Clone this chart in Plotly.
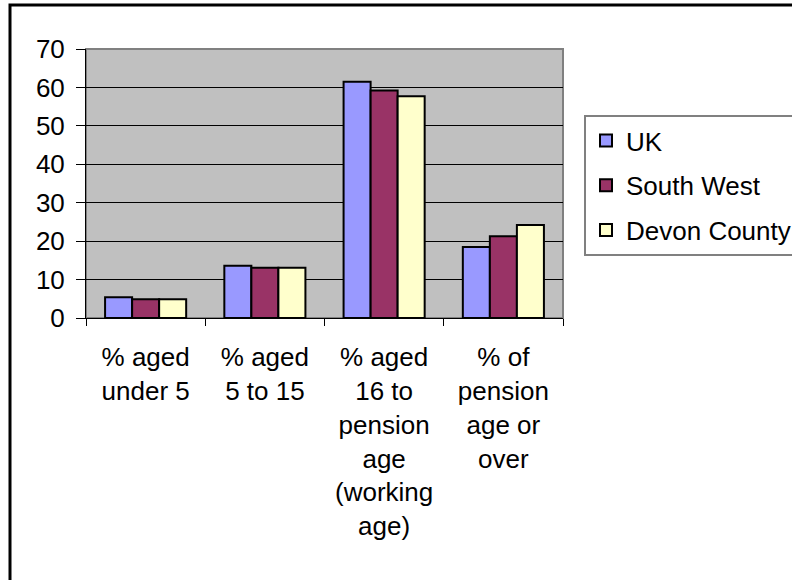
import plotly.graph_objects as go

categories = [
    "% aged<br>under 5",
    "% aged<br>5 to 15",
    "% aged<br>16 to<br>pension<br>age<br>(working<br>age)",
    "% of<br>pension<br>age or<br>over",
]
uk = [5.4, 13.6, 61.5, 18.5]
south_west = [4.9, 13.1, 59.2, 21.3]
devon = [4.9, 13.1, 57.7, 24.2]

series = [
    ("UK", uk, "#9999FF"),
    ("South West", south_west, "#993366"),
    ("Devon County", devon, "#FFFFCC"),
]

W, H = 792, 580
L, R, T, B = 86, 229, 49, 262
pw, ph = W - L - R, H - T - B

FONT = "Liberation Sans, Arial, sans-serif"

fig = go.Figure()
for name, vals, color in series:
    fig.add_trace(go.Bar(
        x=categories, y=vals, name=name, legendgroup=name,
        marker=dict(color=color, line=dict(color="#000000", width=2)),
    ))


def px_x(x):
    return (x - L) / pw


def px_y(y):
    return 1 - (y - T) / ph


fig.update_layout(
    width=W, height=H,
    paper_bgcolor="#FFFFFF",
    plot_bgcolor="#C0C0C0",
    font=dict(family=FONT, size=26, color="#000000"),
    margin=dict(l=L, r=R, t=T, b=B, autoexpand=False),
    barmode="group",
    bargap=0.32,
    bargroupgap=0,
    showlegend=True,
    legend=dict(
        x=px_x(584), y=px_y(115), xanchor="left", yanchor="top",
        bgcolor="#FFFFFF", bordercolor="#808080", borderwidth=2,
        font=dict(family=FONT, size=26, color="#000000"),
        itemwidth=30, tracegroupgap=8,
    ),
    shapes=[
        # plot area border
        dict(type="rect", xref="paper", yref="paper", x0=0, x1=1, y0=0, y1=1,
             line=dict(color="#808080", width=2), layer="below"),
        # outer chart frame
        dict(type="rect", xref="paper", yref="paper",
             x0=px_x(10), x1=px_x(810), y0=px_y(600), y1=px_y(5),
             line=dict(color="#000000", width=3)),
    ],
)

fig.update_yaxes(
    range=[0, 70], dtick=10,
    showgrid=True, gridcolor="#000000", gridwidth=1,
    showline=True, linecolor="#000000", linewidth=1,
    ticks="outside", ticklen=9, tickcolor="#000000",
    ticklabelstandoff=6,
    zeroline=False,
)
fig.update_xaxes(
    showline=True, linecolor="#000000", linewidth=1,
    ticks="outside", ticklen=7, tickcolor="#000000",
    tickson="boundaries",
    ticklabelstandoff=16,
    tickangle=0,
)

fig.write_html(
    "out.html",
    config={"displayModeBar": False},
    post_script="document.body.style.margin='0';",
)
